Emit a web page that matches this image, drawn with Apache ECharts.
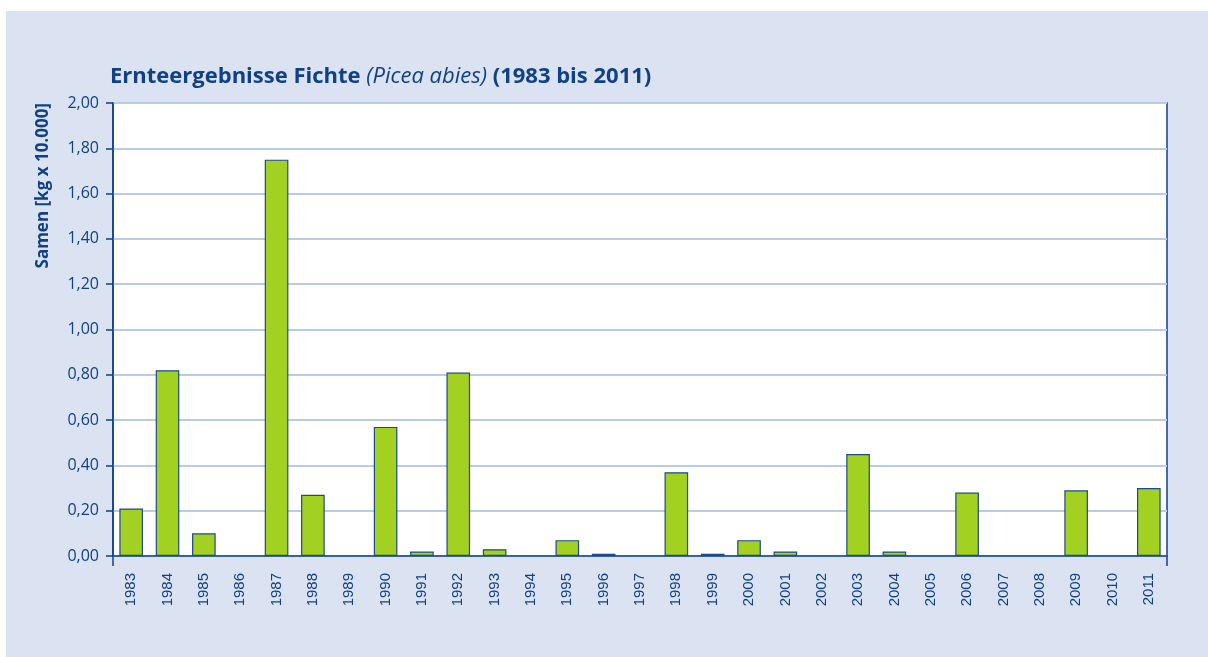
<!DOCTYPE html>
<html><head><meta charset="utf-8">
<script src="https://cdn.jsdelivr.net/npm/echarts@6/dist/echarts.min.js"></script>
<style>html,body{margin:0;padding:0;background:#fff;}#c{width:1208px;height:657px;}</style>
</head><body><div id="c"></div>
<script>
const years = ['1983','1984','1985','1986','1987','1988','1989','1990','1991','1992','1993','1994','1995','1996','1997','1998','1999','2000','2001','2002','2003','2004','2005','2006','2007','2008','2009','2010','2011'];
const seeds = [0.21,0.82,0.10,0,1.75,0.27,0,0.57,0.02,0.81,0.03,0,0.07,0.01,0,0.37,0.01,0.07,0.02,0,0.45,0.02,0,0.28,0,0,0.29,0,0.30];
const yTicks = {min:0, max:2, interval:0.2};

const dark = '#0f4184';
const chart = echarts.init(document.getElementById('c'), null, {renderer:'canvas'});
const G = {left:113, top:103, right:1208-1167, bottom:657-556};
chart.setOption({
  animation:false,
  textStyle:{fontFamily:'"Open Sans", "DejaVu Sans", sans-serif'},
  graphic:[
    {type:'rect', z:-10, silent:true, shape:{x:6,y:11,width:1202,height:646}, style:{fill:'#dbe2f1'}},
    {type:'text', left:110, top:66, style:{
      rich:{
        b:{fontSize:22, fontWeight:'bold', fill:dark, fontFamily:'"Open Sans", sans-serif'},
        i:{fontSize:22, fontStyle:'italic', fill:dark, fontFamily:'"Open Sans", sans-serif'}
      },
      text:'{b|Ernteergebnisse Fichte }{i|(Picea abies)}{b| (1983 bis 2011)}'
    }},
    {type:'text', x:35, y:103, rotation:Math.PI/2, style:{
      text:'Samen [kg x 10.000]', fill:dark, fontSize:17, fontWeight:'bold',
      fontFamily:'"Open Sans", sans-serif', align:'right', verticalAlign:'top'
    }},
    {type:'line', shape:{x1:113,y1:556,x2:113,y2:566}, style:{stroke:dark, lineWidth:1.5}},
    {type:'line', shape:{x1:1167,y1:556,x2:1167,y2:566}, style:{stroke:dark, lineWidth:1.5}}
  ],
  grid:{left:G.left, top:G.top, right:G.right, bottom:G.bottom, show:true, backgroundColor:'#fff', borderColor:dark, borderWidth:1.5, containLabel:false},
  xAxis:{
    type:'category', data:years, boundaryGap:true,
    axisLine:{lineStyle:{color:dark, width:1.5}},
    axisTick:{show:false},
    axisLabel:{rotate:90, color:dark, fontSize:15, margin:17, fontFamily:'"Liberation Sans", Arial, sans-serif'}
  },
  yAxis:{
    type:'value', min:yTicks.min, max:yTicks.max, interval:yTicks.interval,
    axisLine:{show:true, lineStyle:{color:dark, width:1.5}},
    axisTick:{show:true, length:7, lineStyle:{color:dark, width:1.5}},
    axisLabel:{color:dark, fontSize:16, margin:14, formatter:v=>v.toFixed(2).replace('.',',')},
    splitLine:{lineStyle:{color:'#b9cbe8', width:2}}
  },
  series:[{
    type:'bar', data:seeds.map(v => v === 0 ? '-' : v), barWidth:'65%',
    itemStyle:{color:'#a3d122', borderColor:'#1d4a88', borderWidth:1.2}
  }]
});
</script></body></html>
